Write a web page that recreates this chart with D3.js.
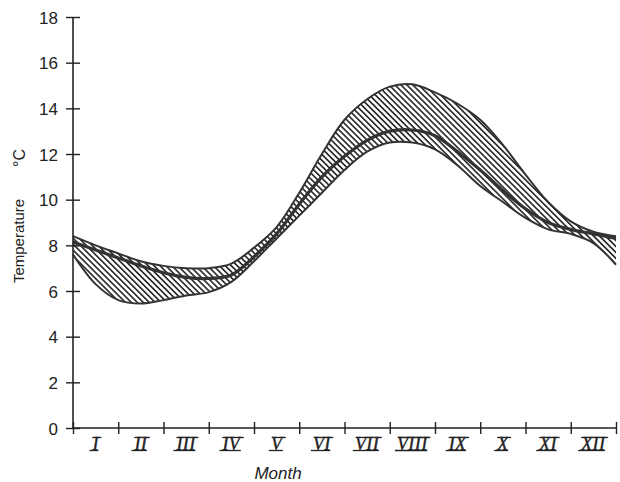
<!DOCTYPE html>
<meta charset="utf-8">
<style>
    body { margin: 0; background: #fff; }
    svg text { fill: #222; }
    .tick text { font-family: "Liberation Sans", sans-serif; font-size: 17px; fill: #222; }
    .roman { font-family: "Liberation Serif", serif; font-style: italic; font-size: 18px; stroke: #222; stroke-width: 0.4; }
</style>
<body>
<div id="chart"></div>
<script src="https://cdn.jsdelivr.net/npm/d3@7"></script>
<script>
    var width = 620,
        height = 482

    // months, at half month steps (0 = start of January, 12 = end of December)
    var monthPos = [0, 0.5, 1, 1.5, 2, 2.5, 3, 3.5, 4, 4.5, 5, 5.5, 6, 6.5, 7, 7.5, 8, 8.5, 9, 9.5, 10, 10.5, 11, 11.5, 12]
    var upperTemp = [8.4, 8.0, 7.65, 7.3, 7.1, 7.0, 7.0, 7.2, 7.9, 8.8, 10.3, 12.0, 13.5, 14.4, 14.95, 15.05, 14.7, 14.2, 13.5, 12.4, 11.1, 9.9, 9.05, 8.6, 8.4]
    var meanTemp = [8.15, 7.8, 7.45, 7.1, 6.8, 6.6, 6.55, 6.7, 7.5, 8.5, 9.8, 11.0, 11.9, 12.6, 13.0, 13.05, 12.8, 12.1, 11.3, 10.4, 9.6, 9.0, 8.7, 8.5, 8.3]
    var lowerTemp = [7.6, 6.3, 5.6, 5.45, 5.6, 5.8, 5.95, 6.4, 7.3, 8.3, 9.3, 10.3, 11.3, 12.1, 12.5, 12.5, 12.2, 11.5, 10.6, 9.9, 9.2, 8.7, 8.5, 8.1, 7.15]

    var monthLabels = ["I", "II", "III", "IV", "V", "VI", "VII", "VIII", "IX", "X", "XI", "XII"]
    var yTicks = [0, 2, 4, 6, 8, 10, 12, 14, 16, 18]

    var svg = d3.select('#chart').append("svg")
        .attr("width", width)
        .attr("height", height);

    var x = d3.scaleLinear().domain([0, 12]).range([73, 616])
    var y = d3.scaleLinear().domain([0, 18]).range([428, 17])

    var defs = svg.append("defs")
    var pat = defs.append("pattern")
        .attr("id", "hatch")
        .attr("patternUnits", "userSpaceOnUse")
        .attr("width", 4.2)
        .attr("height", 4.2)
        .attr("patternTransform", "rotate(-45)")
    pat.append("rect").attr("width", 4.2).attr("height", 4.2).attr("fill", "#fff")
    pat.append("line")
        .attr("x1", 0).attr("y1", 0).attr("x2", 0).attr("y2", 4.2)
        .attr("stroke", "#2e2e2e")
        .attr("stroke-width", 3.4)

    var rows = monthPos.map(function (m, i) {
        return { m: m, hi: upperTemp[i], mid: meanTemp[i], lo: lowerTemp[i] }
    })

    var area = d3.area()
        .x(function (d) { return x(d.m) })
        .y0(function (d) { return y(d.lo) })
        .y1(function (d) { return y(d.hi) })
        .curve(d3.curveCatmullRom)

    var line = function (key) {
        return d3.line()
            .x(function (d) { return x(d.m) })
            .y(function (d) { return y(d[key]) })
            .curve(d3.curveCatmullRom)
    }

    svg.append("path")
        .datum(rows)
        .attr("d", area)
        .attr("fill", "url(#hatch)")

    svg.append("path").datum(rows).attr("d", line("hi"))
        .attr("fill", "none").attr("stroke", "#333").attr("stroke-width", 2)
    svg.append("path").datum(rows).attr("d", line("lo"))
        .attr("fill", "none").attr("stroke", "#333").attr("stroke-width", 2)
    svg.append("path").datum(rows).attr("d", line("mid"))
        .attr("fill", "none").attr("stroke", "#333").attr("stroke-width", 3.2)

    // y axis, ticks crossing the line
    var yAxis = svg.append("g")
        .attr("transform", "translate(73,0)")
        .call(d3.axisLeft(y).tickValues(yTicks).tickSize(7).tickPadding(8))
    yAxis.select(".domain").attr("d", "M0," + y(18) + "V" + y(0)).attr("stroke", "#222").attr("stroke-width", 1.6)
    yAxis.selectAll(".tick line").attr("x1", -7).attr("x2", 7).attr("stroke", "#222").attr("stroke-width", 1.4)
    yAxis.selectAll(".tick text").attr("dy", "0.36em")

    // x axis with month boundaries
    var xAxis = svg.append("g")
        .attr("transform", "translate(0,428)")
        .call(d3.axisBottom(x).tickValues(d3.range(0, 13)).tickSize(6).tickFormat(""))
    xAxis.select(".domain").attr("d", "M" + x(0) + ",0H" + x(12)).attr("stroke", "#222").attr("stroke-width", 1.6)
    xAxis.selectAll(".tick line").attr("y1", -6).attr("y2", 6).attr("stroke", "#222").attr("stroke-width", 1.4)

    var roman = svg.selectAll(".romanG")
        .data(monthLabels)
        .enter().append("g")
        .attr("class", "romanG")

    roman.append("text")
        .attr("class", "roman")
        .attr("x", function (d, i) { return x(i + 0.5) })
        .attr("y", 450)
        .attr("text-anchor", "middle")
        .attr("letter-spacing", "0.5px")
        .text(function (d) { return d })

    // bars over and under the numerals
    roman.each(function () {
        var g = d3.select(this)
        var b = g.select("text").node().getBBox()
        g.append("line")
            .attr("x1", b.x + 1).attr("x2", b.x + b.width + 2)
            .attr("y1", 437.5).attr("y2", 437.5)
            .attr("stroke", "#222").attr("stroke-width", 1.3)
        g.append("line")
            .attr("x1", b.x - 2).attr("x2", b.x + b.width - 1)
            .attr("y1", 450.5).attr("y2", 450.5)
            .attr("stroke", "#222").attr("stroke-width", 1.3)
    })

    svg.append("text")
        .attr("x", 278)
        .attr("y", 479)
        .attr("text-anchor", "middle")
        .style("font-family", "Liberation Sans, sans-serif")
        .style("font-style", "italic")
        .style("font-size", "17px")
        .text("Month")

    svg.append("text")
        .attr("transform", "translate(24,241) rotate(-90)")
        .attr("text-anchor", "middle")
        .style("font-family", "Liberation Sans, sans-serif")
        .style("font-size", "15px")
        .text("Temperature")

    svg.append("text")
        .attr("transform", "translate(25,158) rotate(-90)")
        .attr("text-anchor", "middle")
        .style("font-family", "Liberation Sans, sans-serif")
        .style("font-size", "16px")
        .text("°C")
</script>
</body>
